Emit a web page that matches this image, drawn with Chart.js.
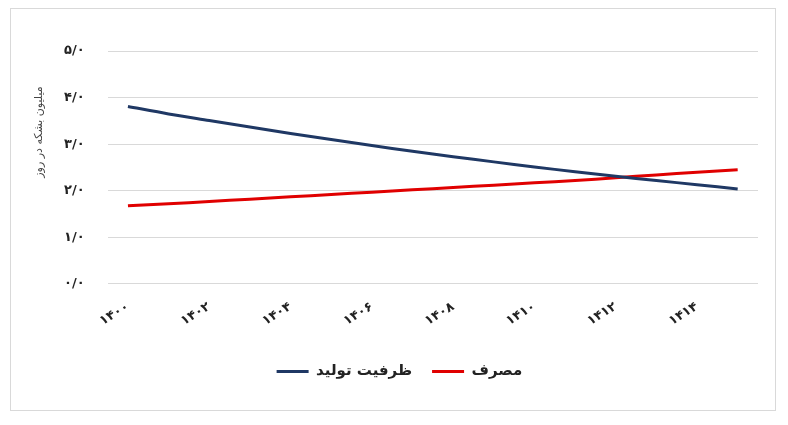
<!DOCTYPE html>
<html><head><meta charset="utf-8">
<script src="https://cdn.jsdelivr.net/npm/chart.js@4.4.1/dist/chart.umd.min.js"></script>
<style>
html,body{margin:0;padding:0;background:#fff;}
#box{position:absolute;left:10px;top:8px;width:764px;height:401px;border:1px solid #d9d9d9;}
canvas{display:block;}
</style></head>
<body>
<div id="box"><canvas id="c" width="764" height="401"></canvas></div>
<script>
const years = ['۱۴۰۰','۱۴۰۱','۱۴۰۲','۱۴۰۳','۱۴۰۴','۱۴۰۵','۱۴۰۶','۱۴۰۷','۱۴۰۸','۱۴۰۹','۱۴۱۰','۱۴۱۱','۱۴۱۲','۱۴۱۳','۱۴۱۴','۱۴۱۵'];
const capacity = [3.81,3.65,3.51,3.37,3.23,3.10,2.97,2.85,2.73,2.62,2.51,2.41,2.31,2.22,2.13,2.04];
const consumption = [1.68,1.72,1.77,1.82,1.87,1.92,1.97,2.02,2.07,2.12,2.17,2.22,2.28,2.34,2.40,2.45];
const yTickLabels = ['۰/۰','۱/۰','۲/۰','۳/۰','۴/۰','۵/۰'];
const seriesNames = ['ظرفیت تولید','مصرف'];
const yTitle = 'میلیون بشکه در روز';

const yTitlePlugin = {
  id: 'yTitlePlugin',
  afterDraw(chart) {
    const ctx = chart.ctx;
    ctx.save();
    ctx.translate(28, 123);
    ctx.rotate(-Math.PI / 2);
    ctx.font = '11px "DejaVu Sans"';
    ctx.fillStyle = '#444';
    ctx.textAlign = 'center';
    ctx.textBaseline = 'middle';
    ctx.direction = 'rtl';
    ctx.fillText(yTitle, 0, 0);
    ctx.restore();
  }
};

new Chart(document.getElementById('c'), {
  type: 'line',
  data: {
    labels: years,
    datasets: [
      {label: seriesNames[0], data: capacity, borderColor: '#1f3864', backgroundColor: '#1f3864', borderWidth: 3, pointRadius: 0, tension: 0.3},
      {label: seriesNames[1], data: consumption, borderColor: '#e00000', backgroundColor: '#e00000', borderWidth: 3, pointRadius: 0, tension: 0.3}
    ]
  },
  options: {
    responsive: false,
    animation: false,
    layout: {padding: {top: 42, right: 17, left: 30, bottom: 21}},
    scales: {
      x: {
        offset: true,
        grid: {display: false, drawTicks: false},
        border: {display: false},
        ticks: {
          autoSkip: false, maxRotation: 32, minRotation: 32, padding: 15,
          color: '#222', font: {family: 'DejaVu Sans', size: 13, weight: 'bold'},
          callback: function(v, i){ return i % 2 === 0 ? years[i] : ''; }
        }
      },
      y: {
        min: 0, max: 5,
        grid: {color: '#d9d9d9', drawTicks: false},
        border: {display: false},
        ticks: {
          stepSize: 1, padding: 23,
          color: '#222', font: {family: 'DejaVu Sans', size: 13, weight: 'bold'},
          callback: function(v){ return yTickLabels[Math.round(v)]; }
        },
        title: {display: false}
      }
    },
    plugins: {
      legend: {
        position: 'bottom',
        labels: {
          color: '#222', font: {family: 'DejaVu Sans', size: 15, weight: 'bold'},
          boxWidth: 32, boxHeight: 3, padding: 20,
          generateLabels: function(chart){
            return Chart.defaults.plugins.legend.labels.generateLabels(chart).map(function(it){ it.lineWidth = 0; return it; });
          }
        }
      },
      tooltip: {enabled: false}
    }
  },
  plugins: [yTitlePlugin]
});
</script>
</body></html>
